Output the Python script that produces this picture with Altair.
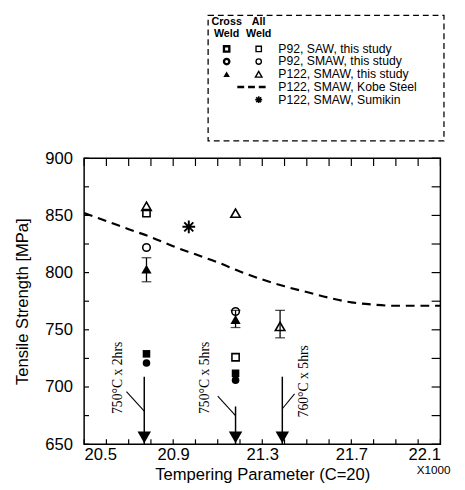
import altair as alt
import pandas as pd

# ---------------- data ----------------
# P92, SAW, this study
saw_cross_x = [20.78, 21.18]
saw_cross_y = [729, 712]
saw_all_x = [20.78, 21.18]
saw_all_y = [852, 726]
# P92, SMAW, this study
smaw92_cross_x = [20.78, 21.18]
smaw92_cross_y = [721, 706]
smaw92_all_x = [20.78, 21.18]
smaw92_all_y = [822, 766]
# P122, SMAW, this study
p122_cross_x = [20.78, 21.18]
p122_cross_y = [803, 759]
p122_all_x = [20.78, 21.18, 21.38]
p122_all_y = [858, 852, 753]
# error bars
err_x = [20.78, 21.18, 21.38]
err_lo = [792, 752, 743]
err_hi = [813, 767, 767]
# P122, SMAW, Sumikin
sumikin_x = [20.97]
sumikin_y = [840]
# P122, SMAW, Kobe Steel (dashed curve)
kobe_x = [20.5, 20.6, 20.7, 20.8, 20.9, 21.0, 21.1, 21.2, 21.3, 21.4, 21.5, 21.6, 21.7, 21.8, 21.9, 22.0, 22.1]
kobe_y = [852, 845, 838, 831, 823, 816, 809, 801, 794, 788, 783, 778, 774, 772, 771, 771, 771]
# tempering-condition arrows
arrow_x = [20.77, 21.18, 21.39]
arrow_top = [709, 683, 709]
arrow_text = ["750°C x 2hrs", "750°C x 5hrs", "760°C x 5hrs"]
label_x = [20.652, 21.045, 21.49]
label_y = [708, 708, 705]
lead_x1 = [20.69, 21.10, 21.445]
lead_y1 = [696, 692, 694]
lead_x2 = [20.77, 21.18, 21.39]
lead_y2 = [679, 675, 681]
# axes
x_major = [20.5, 20.9, 21.3, 21.7, 22.1]
x_minor = [20.6, 20.7, 20.8, 21.0, 21.1, 21.2, 21.4, 21.5, 21.6, 21.8, 21.9, 22.0]
y_major = [650, 700, 750, 800, 850, 900]
y_minor = [675, 725, 775, 825, 875]
# legend
legend_labels = ["P92, SAW, this study", "P92, SMAW, this study", "P122, SMAW, this study",
                 "P122, SMAW, Kobe Steel", "P122, SMAW, Sumikin"]

W, H = 365, 293
FONT = "Liberation Sans"
ASTER = "M0,-1L0,1M-1,0L1,0M-0.71,-0.71L0.71,0.71M-0.71,0.71L0.71,-0.71"

xs = alt.Scale(domain=[20.5, 22.1], nice=False, zero=False)
ys = alt.Scale(domain=[650, 900], nice=False, zero=False)

xaxis = alt.Axis(values=x_major, format=".1f", title="Tempering Parameter (C=20)", ticks=False, tickSize=0,
                 domain=False, grid=False, labelFont=FONT, labelFontSize=17, labelColor="black",
                 labelPadding=3, titleFont=FONT, titleFontSize=17, titleFontWeight="normal",
                 titleColor="black", titlePadding=4)
yaxis = alt.Axis(values=y_major, title="Tensile Strength [MPa]", ticks=False, tickSize=0, domain=False,
                 grid=False, labelFont=FONT, labelFontSize=17, labelColor="black", labelPadding=12,
                 titleFont=FONT, titleFontSize=17, titleFontWeight="normal", titleColor="black",
                 titlePadding=14)


def pts(xv, yv, shape, filled, size, sw=1.6):
    df = pd.DataFrame({"x": xv, "y": yv})
    return alt.Chart(df).mark_point(shape=shape, filled=filled, size=size, color="black",
                                    strokeWidth=sw, opacity=1).encode(
        x=alt.X("x:Q", scale=xs, axis=xaxis), y=alt.Y("y:Q", scale=ys, axis=yaxis))


# Kobe steel dashed line
kobe = alt.Chart(pd.DataFrame({"x": kobe_x, "y": kobe_y})).mark_line(
    color="black", strokeDash=[9, 6], strokeWidth=2.2, interpolate="monotone").encode(
    x=alt.X("x:Q", scale=xs, axis=xaxis), y=alt.Y("y:Q", scale=ys, axis=yaxis))

# error bars
edf = pd.DataFrame({"x": err_x, "lo": err_lo, "hi": err_hi})
err_rule = alt.Chart(edf).mark_rule(color="black", strokeWidth=1.3).encode(
    x=alt.X("x:Q", scale=xs), y=alt.Y("lo:Q", scale=ys), y2="hi:Q")
err_cap_lo = alt.Chart(edf).mark_tick(orient="horizontal", color="black", size=10, thickness=1.3).encode(
    x=alt.X("x:Q", scale=xs), y=alt.Y("lo:Q", scale=ys))
err_cap_hi = alt.Chart(edf).mark_tick(orient="horizontal", color="black", size=10, thickness=1.3).encode(
    x=alt.X("x:Q", scale=xs), y=alt.Y("hi:Q", scale=ys))

# arrows
adf = pd.DataFrame({"x": arrow_x, "top": arrow_top, "bot": [650] * len(arrow_x)})
arrow_line = alt.Chart(adf).mark_rule(color="black", strokeWidth=1.5).encode(
    x=alt.X("x:Q", scale=xs), y=alt.Y("top:Q", scale=ys), y2="bot:Q")
arrow_head = alt.Chart(adf).mark_point(shape="triangle-down", filled=True, size=190, color="black",
                                       opacity=1, yOffset=-7).encode(
    x=alt.X("x:Q", scale=xs), y=alt.Y("bot:Q", scale=ys))
ldf = pd.DataFrame({"x1": lead_x1, "y1": lead_y1, "x2": lead_x2, "y2": lead_y2})
leaders = alt.Chart(ldf).mark_rule(color="black", strokeWidth=1.1).encode(
    x=alt.X("x1:Q", scale=xs), y=alt.Y("y1:Q", scale=ys), x2="x2:Q", y2="y2:Q")
tdf = pd.DataFrame({"x": label_x, "y": label_y, "t": arrow_text})
arrow_labels = alt.Chart(tdf).mark_text(angle=270, font="Liberation Serif", fontSize=14, color="black",
                                        align="center", baseline="middle").encode(
    x=alt.X("x:Q", scale=xs), y=alt.Y("y:Q", scale=ys), text="t:N")


# inward ticks
def xticks(vals, y0, y1):
    return alt.Chart(pd.DataFrame({"v": vals})).mark_rule(color="black", strokeWidth=1.2).encode(
        x=alt.X("v:Q", scale=xs), y=alt.value(y0), y2=alt.value(y1))


def yticks(vals, x0, x1):
    return alt.Chart(pd.DataFrame({"v": vals})).mark_rule(color="black", strokeWidth=1.2).encode(
        y=alt.Y("v:Q", scale=ys), x=alt.value(x0), x2=alt.value(x1))


ticks = [xticks(x_major + x_minor, H, H - 5), xticks(x_major + x_minor, 0, 8),
         yticks(y_major + y_minor, 0, 5), yticks(y_major + y_minor, W, W - 9)]

x1000 = alt.Chart(pd.DataFrame({"x": [22.1], "t": ["X1000"]})).mark_text(
    font=FONT, fontSize=12, color="black", dx=-7, baseline="middle").encode(
    x=alt.X("x:Q", scale=xs), y=alt.value(H + 27), text="t:N")

main = alt.layer(
    kobe,
    *ticks,
    arrow_line, arrow_head, leaders, arrow_labels,
    err_rule, err_cap_lo, err_cap_hi,
    pts(saw_all_x, saw_all_y, "square", False, 55),
    pts(smaw92_all_x, smaw92_all_y, "circle", False, 60),
    pts(p122_all_x, p122_all_y, "triangle-up", False, 95),
    pts(saw_cross_x, saw_cross_y, "square", True, 60),
    pts(smaw92_cross_x, smaw92_cross_y, "circle", True, 60),
    pts(p122_cross_x, p122_cross_y, "triangle-up", True, 110),
    pts(sumikin_x, sumikin_y, ASTER, False, 170, 2.0),
    x1000,
).properties(width=W, height=H, view=alt.ViewBackground(stroke="black", strokeWidth=1.5))

# ---------------- legend panel ----------------
LH = 130
lxs = alt.Scale(domain=[0, 1], nice=False, zero=False)
lys = alt.Scale(domain=[-2.692, 7.308], nice=False, zero=False, reverse=True)


def L(df):
    return alt.Chart(df)


rows = list(range(len(legend_labels)))
leg_text = L(pd.DataFrame({"x": [0.545] * 5, "y": rows, "t": legend_labels})).mark_text(
    font=FONT, fontSize=12.5, color="black", align="left", baseline="middle").encode(
    x=alt.X("x:Q", scale=lxs, axis=None), y=alt.Y("y:Q", scale=lys, axis=None), text="t:N")

CX, AX = 0.40, 0.49
hdr = L(pd.DataFrame({"x": [CX, CX, AX, AX], "y": [-2.077, -1.154, -2.077, -1.154],
                      "t": ["Cross", "Weld", "All", "Weld"]})).mark_text(
    font=FONT, fontSize=11, fontWeight="bold", color="black", align="center", baseline="middle").encode(
    x=alt.X("x:Q", scale=lxs, axis=None), y=alt.Y("y:Q", scale=lys, axis=None), text="t:N")


def lsym(x, y, shape, filled, size, sw=1.4):
    return L(pd.DataFrame({"x": [x], "y": [y]})).mark_point(
        shape=shape, filled=filled, size=size, color="black", strokeWidth=sw, opacity=1).encode(
        x=alt.X("x:Q", scale=lxs, axis=None), y=alt.Y("y:Q", scale=lys, axis=None))


leg_syms = [
    lsym(CX, 0, "square", False, 30, 2.4), lsym(AX, 0, "square", False, 30),
    lsym(CX, 1, "circle", False, 30, 2.4), lsym(AX, 1, "circle", False, 30),
    lsym(CX, 2, "triangle-up", True, 45), lsym(AX, 2, "triangle-up", False, 45),
    lsym(AX, 4, ASTER, False, 50, 1.6),
]
leg_dash = L(pd.DataFrame({"x": [AX - 0.06], "x2": [AX + 0.03], "y": [3]})).mark_rule(
    color="black", strokeWidth=2.5, strokeDash=[7, 4]).encode(
    x=alt.X("x:Q", scale=lxs, axis=None), x2="x2:Q", y=alt.Y("y:Q", scale=lys, axis=None))
box = L(pd.DataFrame({"x": [0.348], "x2": [1.01], "y": [-2.638], "y2": [7.254]})).mark_rect(
    fill="transparent", stroke="black", strokeWidth=1.3, strokeDash=[6, 4]).encode(
    x=alt.X("x:Q", scale=lxs, axis=None), x2="x2:Q",
    y=alt.Y("y:Q", scale=lys, axis=None), y2="y2:Q")

legend = alt.layer(box, leg_text, hdr, leg_dash, *leg_syms).properties(
    width=W, height=LH, view=alt.ViewBackground(stroke="transparent"))

chart = alt.vconcat(legend, main, spacing=6).properties(
    padding={"left": 4, "top": 0, "right": 5, "bottom": 0},
    background="white"
)

chart.save("out.html", embed_options={"renderer": "svg", "actions": False})
